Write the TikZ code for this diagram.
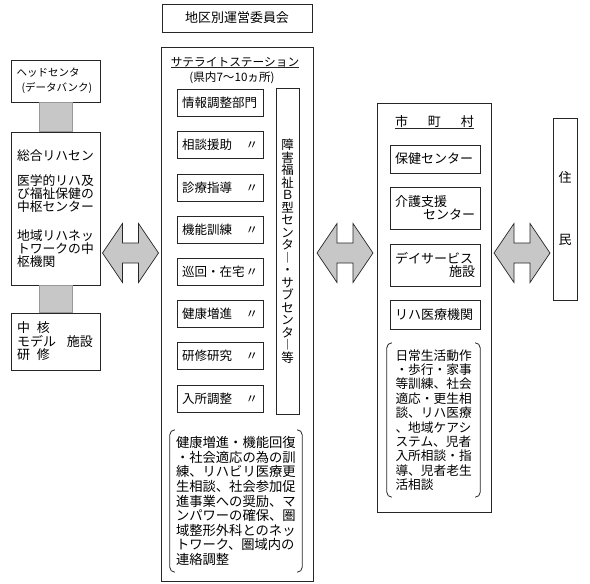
\documentclass[tikz,border=0pt]{standalone}
\usepackage{fontspec}
\setmainfont{Noto Sans CJK JP}
\usetikzlibrary{calc}
\definecolor{boxline}{gray}{0.15}
\definecolor{fillg}{gray}{0.78}
\begin{document}
\begin{tikzpicture}[x=1pt,y=-1pt,
  box/.style={draw=boxline,line width=0.8pt,inner sep=0pt},
  sbox/.style={box,minimum width=86pt,minimum height=27pt,text width=76pt,inner xsep=5pt,align=left,font=\fontsize{12.5}{13}\selectfont},
  rbox/.style={box,minimum width=90pt,text width=80pt,inner xsep=5pt,align=left,font=\fontsize{13}{13}\selectfont},
  graybar/.style={fill=fillg,draw=gray!80,line width=0.5pt},
  bracket/.style={draw=boxline,line width=0.8pt,rounded corners=5pt},
  uline/.style={draw=boxline,line width=0.7pt},
  pics/blockarrow/.style={code={
    \filldraw[fill=fillg,draw=boxline,line width=0.7pt]
      (-28,0) -- (-8,-29.5) -- (-8,-10) -- (8,-10) -- (8,-29.5) -- (28,0)
      -- (8,29.5) -- (8,10) -- (-8,10) -- (-8,29.5) -- cycle;}}]
\useasboundingbox (0,0) rectangle (590,584);

% top committee box
\node[box,minimum width=150pt,minimum height=28pt,font=\fontsize{13}{14}\selectfont] (iinkai) at (237,18) {地区別運営委員会};

% left column
\node[box,minimum width=89pt,minimum height=42pt,text width=78pt,inner xsep=5.5pt,align=left,font=\fontsize{10.5}{15}\selectfont] (head) at (55.5,81) {ヘッドセンタ\\\hspace*{5pt}(データバンク)};
\node[box,minimum width=89pt,minimum height=153pt,text width=77pt,inner xsep=6pt,align=left,font=\fontsize{12.8}{13.2}\selectfont] (sogo) at (55.5,208.5) {総合リハセン\\[12pt]医学的リハ及\\び福祉保健の\\中枢センター\\[15pt]地域リハネッ\\トワークの中\\枢機関};
\node[box,minimum width=89pt,minimum height=57pt,text width=77pt,inner xsep=6pt,align=left,font=\fontsize{13}{13.5}\selectfont] (chukaku) at (55.5,341.5) {中\hspace{7pt}核\\モデル\hspace{11pt}施設\\研\hspace{7pt}修};
\filldraw[graybar] ([xshift=-16.5pt]head.south) rectangle ([xshift=16.5pt]sogo.north);
\filldraw[graybar] ([xshift=-16.5pt]sogo.south) rectangle ([xshift=16.5pt]chukaku.north);

% middle column
\node[box,minimum width=152pt,minimum height=534pt] (sat) at (237,314) {};
\node[inner sep=0pt,font=\fontsize{11.7}{12}\selectfont] (sattitle) at (235,62) {サテライトステーション};
\draw[uline] (sattitle.south west) -- (sattitle.south east);
\node[inner sep=0pt,font=\fontsize{11.6}{12}\selectfont] (satsub) at (232,78) {(県内7～10ヵ所)};

\node[sbox] (s1) at (220,103) {情報調整部門};
\node[sbox] (s2) at (220,145.2) {相談援助\hfill〃};
\node[sbox] (s3) at (220,187.4) {診療指導\hfill〃};
\node[sbox] (s4) at (220,229.6) {機能訓練\hfill〃};
\node[sbox] (s5) at (220,271.8) {巡回・在宅\hfill〃};
\node[sbox] (s6) at (220,314) {健康増進\hfill〃};
\node[sbox] (s7) at (220,356.2) {研修研究\hfill〃};
\node[sbox] (s8) at (220,398.4) {入所調整\hfill〃};

\node[box,minimum width=23pt,minimum height=326pt,align=center,font=\fontsize{12.5}{12.5}\selectfont] (btype) at (287.5,251) {障\\害\\福\\祉\\Ｂ\\型\\セ\\ン\\タ\\︱\\・\\サ\\ブ\\セ\\ン\\タ\\︱\\等};

\node[inner xsep=6pt,inner ysep=0pt,minimum height=142pt,text width=120pt,align=left,font=\fontsize{13.3}{14.6}\selectfont] (midnote) at (236,501) {健康増進・機能回復\\・社会適応の為の訓\\練、リハビリ医療更\\生相談、社会参加促\\進事業への奨励、マ\\ンパワーの確保、圏\\域整形外科とのネッ\\トワーク、圏域内の\\連絡調整};
\draw[bracket] ([xshift=5pt]midnote.north west) -- (midnote.north west) -- (midnote.south west) -- ([xshift=5pt]midnote.south west);
\draw[bracket] ([xshift=-5pt]midnote.north east) -- (midnote.north east) -- (midnote.south east) -- ([xshift=-5pt]midnote.south east);

% right column
\node[box,minimum width=114pt,minimum height=409pt] (shi) at (434,307.5) {};
\node[inner sep=0pt,font=\fontsize{13}{13}\selectfont] (shititle) at (434.5,122) {市\hspace{20pt}町\hspace{20pt}村};
\draw[uline] (shititle.south west) -- (shititle.south east);
\node[rbox,minimum height=28pt] (hoken) at (435,159) {保健センター};
\node[rbox,minimum height=42pt] (kaigo) at (435,208) {介護支援\\\hspace*{\fill}センター};
\node[rbox,minimum height=42pt] (day) at (435,265) {デイサービス\\\hspace*{\fill}施設};
\node[rbox,minimum height=29pt] (riha) at (435,314.5) {リハ医療機関};

\node[inner xsep=8.5pt,inner ysep=0pt,minimum height=154pt,text width=76pt,align=left,font=\fontsize{12.7}{14.4}\selectfont] (shinote) at (433.5,420) {日常生活動作\\・歩行・家事\\等訓練、社会\\適応・更生相\\談、リハ医療\\、地域ケアシ\\ステム、児者\\入所相談・指\\導、児者老生\\活相談};
\draw[bracket] ([xshift=5pt]shinote.north west) -- (shinote.north west) -- (shinote.south west) -- ([xshift=5pt]shinote.south west);
\draw[bracket] ([xshift=-5pt]shinote.north east) -- (shinote.north east) -- (shinote.south east) -- ([xshift=-5pt]shinote.south east);

% residents
\node[box,minimum width=24pt,minimum height=182pt,align=center,font=\fontsize{13}{13}\selectfont] (jumin) at (565,209) {住\\[49pt]民};

% block arrows
\coordinate (ymid) at (0,253);
\coordinate (a1) at ($(sogo.east |- ymid)!0.5!(sat.west |- ymid)$);
\coordinate (a2) at ($(sat.east |- ymid)!0.5!(shi.west |- ymid)$);
\coordinate (a3) at ($(shi.east |- ymid)!0.5!(jumin.west |- ymid)$);
\pic at (a1) {blockarrow};
\pic at (a2) {blockarrow};
\pic at (a3) {blockarrow};
\end{tikzpicture}
\end{document}
